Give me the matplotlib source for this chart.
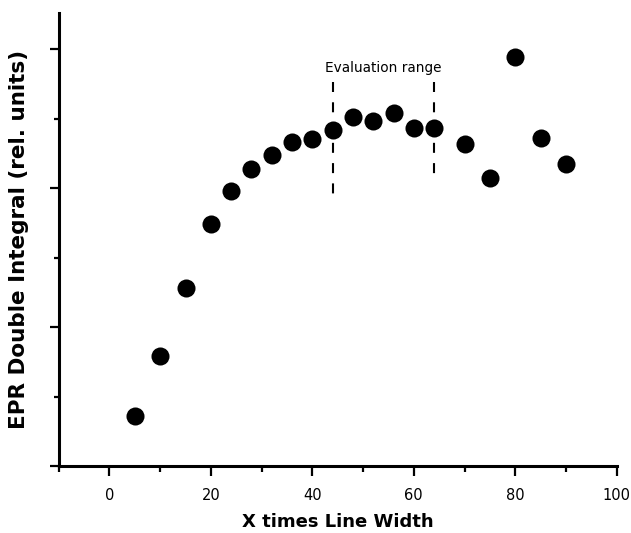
import matplotlib
matplotlib.use("Agg")
import matplotlib.pyplot as plt
from matplotlib.ticker import MultipleLocator, NullFormatter

plt.rcParams['font.family'] = ['DejaVu Sans']
plt.rcParams['lines.scale_dashes'] = False

# measured double integrals vs. integration window (multiples of line width)
width_factor = [5, 10, 15, 20, 24, 28, 32, 36, 40, 44, 48, 52, 56, 60, 64,
                70, 75, 80, 85, 90]
double_integral = [0.36, 0.79, 1.28, 1.74, 1.98, 2.14, 2.24, 2.33, 2.35, 2.42,
                   2.51, 2.48, 2.54, 2.43, 2.43, 2.32, 2.07, 2.94, 2.36, 2.17]

# evaluation window markers
eval_lo, eval_hi = 44, 64
eval_top = 2.76
eval_bottom = [1.96, 2.04]

fig = plt.figure(figsize=(6.31, 5.33), dpi=100)
ax = fig.add_axes([0.093, 0.1257, 0.8844, 0.8499])

ax.plot(width_factor, double_integral, 'o', color='black', markersize=13,
        markeredgewidth=0)

for xv, yb in zip([eval_lo, eval_hi], eval_bottom):
    ax.plot([xv, xv], [eval_top, yb], color='black', lw=1.5,
            linestyle=(0, (7.2, 7.4)), solid_capstyle='butt',
            dash_capstyle='butt')
ax.text((eval_lo + eval_hi) / 2, 2.865, 'Evaluation range', ha='center',
        va='center', fontsize=9.8)

ax.set_xlim(-10, 100)
ax.set_ylim(0, 3.26)

for side in ('top', 'right'):
    ax.spines[side].set_visible(False)
for side in ('left', 'bottom'):
    ax.spines[side].set_linewidth(2.2)

ax.xaxis.set_major_locator(MultipleLocator(20))
ax.xaxis.set_minor_locator(MultipleLocator(10))
ax.yaxis.set_major_locator(MultipleLocator(1))
ax.yaxis.set_minor_locator(MultipleLocator(0.5))
ax.yaxis.set_major_formatter(NullFormatter())

ax.tick_params(axis='x', which='major', length=7.2, width=1.6, labelsize=10.5,
               pad=8.5)
ax.tick_params(axis='x', which='minor', length=4.3, width=1.6)
ax.tick_params(axis='y', which='major', length=6.8, width=1.6)
ax.tick_params(axis='y', which='minor', length=3.9, width=1.6)

ax.set_xlabel('X times Line Width', fontsize=13, fontweight='bold',
              labelpad=7.5)
ax.set_ylabel('EPR Double Integral (rel. units)', fontsize=15.5,
              fontweight='bold', labelpad=11)

fig.savefig('out.png', dpi=100)
